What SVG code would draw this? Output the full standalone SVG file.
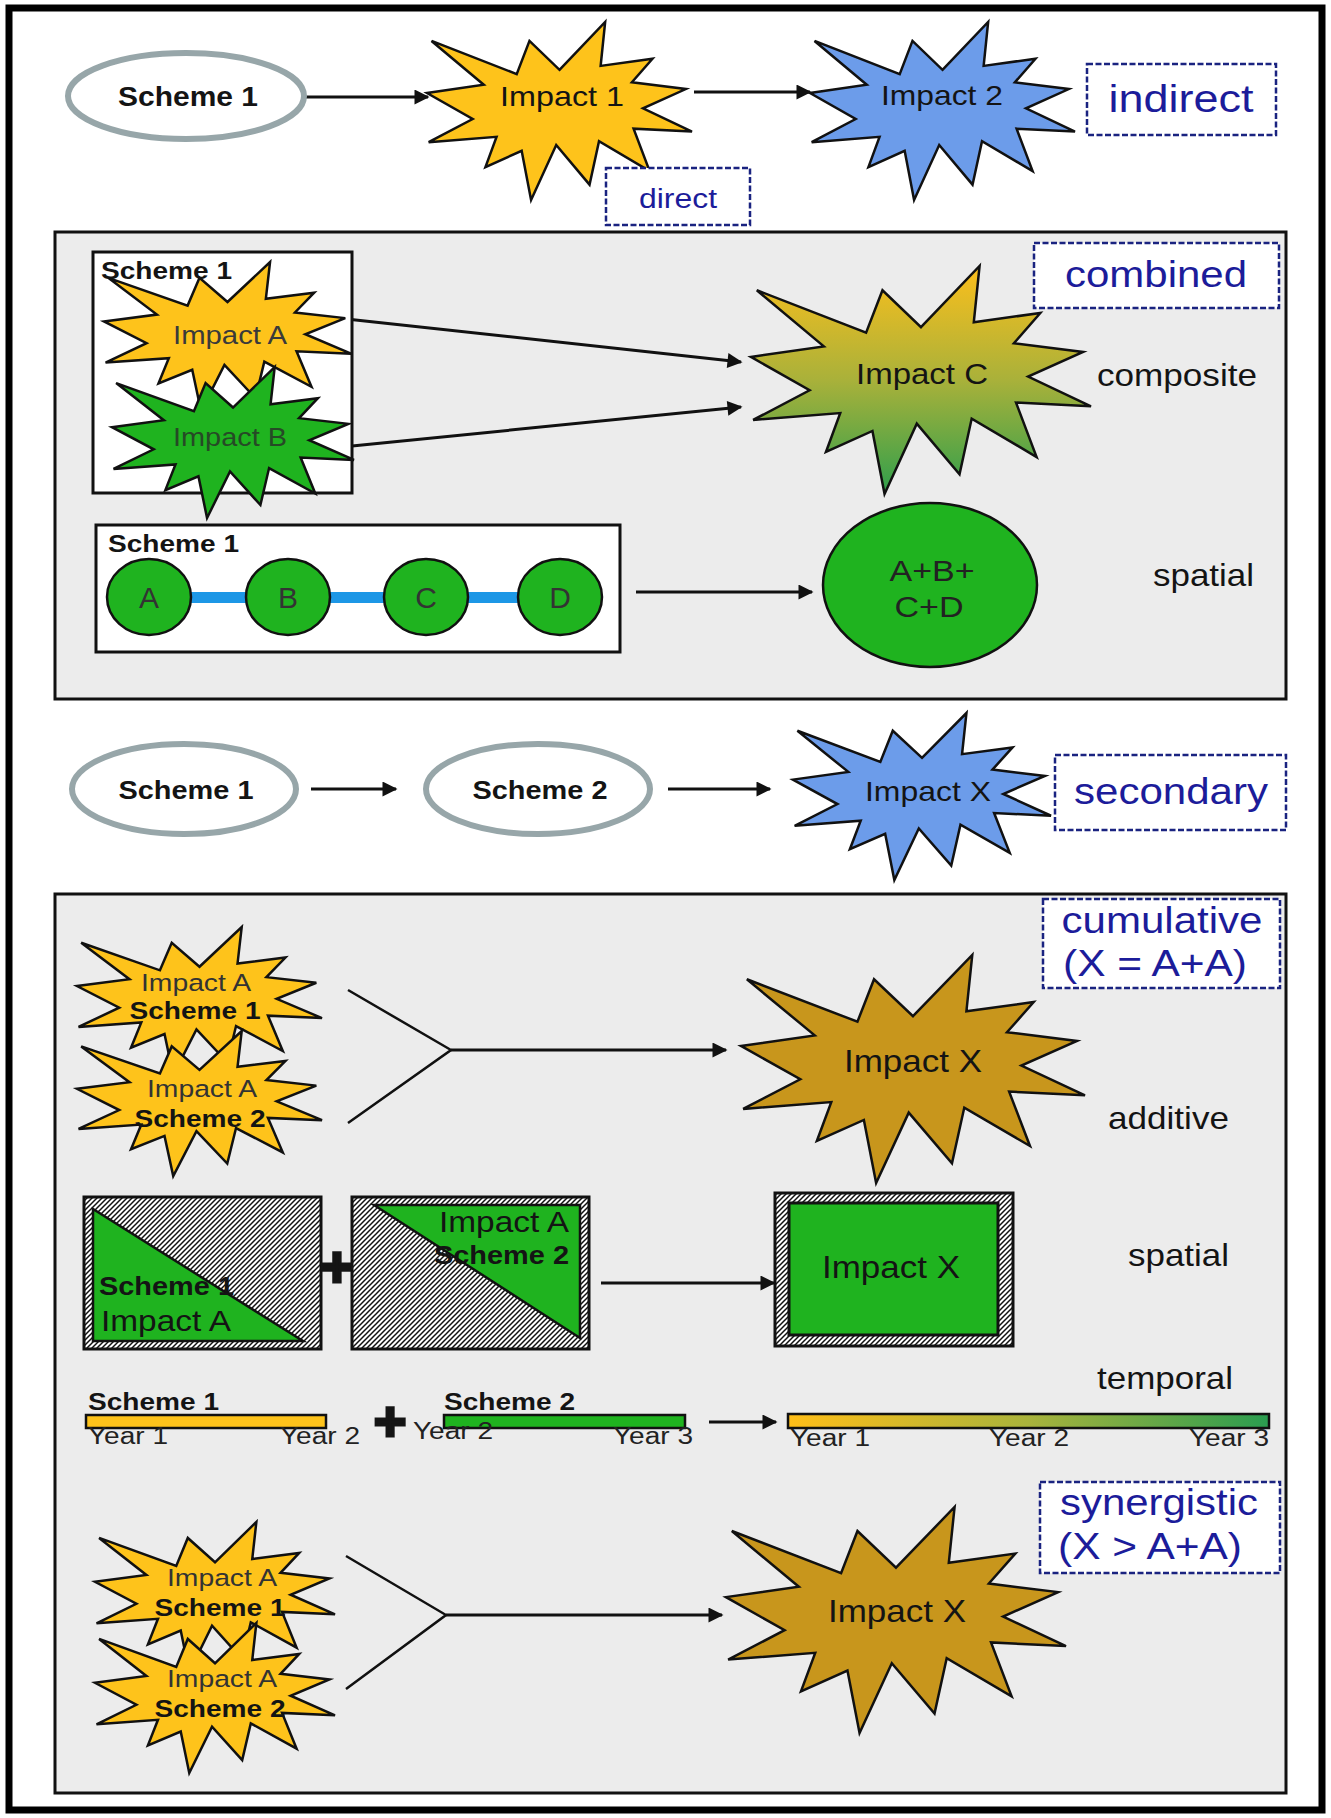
<svg xmlns="http://www.w3.org/2000/svg" width="1331" height="1818" viewBox="0 0 1331 1818">
<style>
text{font-family:"Liberation Sans",Arial,sans-serif;fill:#141414}
.b{font-weight:bold}
.lab{font-size:30.5px}
.blue{fill:#1c1c9a;font-size:37px}
.sec{fill:#ececec;stroke:#111;stroke-width:3}
.dbox{fill:#fff;stroke:#1a2380;stroke-width:2.5;stroke-dasharray:6 2.5}
.ell{fill:#fff;stroke:#97a6a9;stroke-width:6}
.star{stroke:#111;stroke-width:2.5}
.gold{fill:#fec31b}
.blu{fill:#6c9cea}
.grn{fill:#1fb31f}
.dg{fill:#c8961c}
.con line,.con polyline{stroke:#111;stroke-width:3;fill:none}
.arr{marker-end:url(#ah)}
.st{font-size:24.5px;fill:#333}
.sb{font-size:24.5px;font-weight:bold}
.yr{font-size:23.5px;fill:#222}
.bar{stroke:#111;stroke-width:2.5}
</style>
<defs>
<path id="seal" vector-effect="non-scaling-stroke" d="M500,268.5 L672.3,0 L655.3,246.5 L850.9,206.3 L773.2,338.7 L976.7,376.7 L815.1,485 L1000,615.3 L779.5,599.2 L840,837.7 L649.1,669.3 L613.3,913.8 L487.6,691.4 L392.8,1000 L357.2,723.5 L220.5,815.6 L262.4,645.2 L6.3,675.3 L172.3,545.1 L0,398.8 L214.2,352.6 L17.1,106.3 L338.5,292.6 L386.7,106.3 Z"/>
<marker id="ah" viewBox="0 0 10 10" refX="9" refY="5" markerUnits="userSpaceOnUse" markerWidth="19" markerHeight="15" orient="auto"><path d="M0,0 L10,5 L0,10 z" fill="#111"/></marker>
<linearGradient id="gC" x1="0" y1="0" x2="0" y2="1"><stop offset="0" stop-color="#fcbf1c"/><stop offset="0.5" stop-color="#a9b13a"/><stop offset="1" stop-color="#2f9f4c"/></linearGradient>
<linearGradient id="gT" x1="0" y1="0" x2="1" y2="0"><stop offset="0" stop-color="#ffbe18"/><stop offset="0.5" stop-color="#a9b33c"/><stop offset="1" stop-color="#2a9d50"/></linearGradient>
<pattern id="hatch" patternUnits="userSpaceOnUse" width="5" height="5"><rect width="5" height="5" fill="#fff"/><path d="M-1,1 L1,-1 M0,5 L5,0 M4,6 L6,4" stroke="#111" stroke-width="1.5"/></pattern>
</defs>

<rect x="9" y="8" width="1313" height="1802" fill="#fff" stroke="#000" stroke-width="7"/>

<!-- section backgrounds -->
<rect id="sec-combined" class="sec" x="55" y="232" width="1231" height="467"/>
<rect id="sec-cumulative" class="sec" x="55" y="894" width="1231" height="899"/>

<!-- connectors -->
<g id="connectors" class="con">
<line class="arr" x1="304" y1="97" x2="428" y2="97"/>
<line class="arr" x1="694" y1="92" x2="810" y2="92"/>
<line class="arr" x1="328" y1="317" x2="741" y2="362"/>
<line class="arr" x1="332" y1="448" x2="741" y2="407"/>
<line class="arr" x1="636" y1="592" x2="812" y2="592"/>
<line class="arr" x1="311" y1="789" x2="396" y2="789"/>
<line class="arr" x1="668" y1="789" x2="770" y2="789"/>
<polyline points="348,990 451,1050 348,1123" style="stroke-width:2.5"/>
<line class="arr" x1="451" y1="1050" x2="726" y2="1050"/>
<line class="arr" x1="601" y1="1283" x2="774" y2="1283"/>
<line class="arr" x1="709" y1="1422" x2="776" y2="1422"/>
<polyline points="346,1556 446,1615 346,1689" style="stroke-width:2.5"/>
<line class="arr" x1="446" y1="1615" x2="722" y2="1615"/>
</g>

<!-- top row -->
<g id="scheme1-top"><ellipse class="ell" cx="186" cy="96" rx="118" ry="43"/><text class="b" x="188" y="106" font-size="27" text-anchor="middle" textLength="140" lengthAdjust="spacingAndGlyphs">Scheme 1</text></g>
<g id="impact1"><use href="#seal" class="star gold" transform="translate(427,22) scale(0.265,0.178)"/><text x="562" y="106" font-size="28" text-anchor="middle" textLength="124" lengthAdjust="spacingAndGlyphs">Impact 1</text></g>
<g id="impact2"><use href="#seal" class="star blu" transform="translate(810,22) scale(0.265,0.178)"/><text x="942" y="105" font-size="28" text-anchor="middle" textLength="122" lengthAdjust="spacingAndGlyphs">Impact 2</text></g>
<g id="label-indirect"><rect class="dbox" x="1087" y="64" width="189" height="71"/><text class="blue" x="1181" y="112" style="font-size:38px" text-anchor="middle" textLength="145" lengthAdjust="spacingAndGlyphs">indirect</text></g>
<g id="label-direct"><rect class="dbox" x="606" y="168" width="144" height="57"/><text class="blue" x="678" y="208" style="font-size:27px" text-anchor="middle" textLength="78" lengthAdjust="spacingAndGlyphs">direct</text></g>

<!-- combined section -->
<g id="label-combined"><rect class="dbox" x="1034" y="243" width="245" height="65"/><text class="blue" x="1156" y="287" text-anchor="middle" textLength="182" lengthAdjust="spacingAndGlyphs">combined</text></g>
<g id="scheme1-composite"><rect x="93" y="252" width="259" height="241" fill="#fff" stroke="#111" stroke-width="3"/><text class="b" x="101" y="279" font-size="24.5" textLength="131" lengthAdjust="spacingAndGlyphs">Scheme 1</text></g>
<g id="impactA"><use href="#seal" class="star gold" transform="translate(104,262) scale(0.247,0.149)"/><text x="230" y="344" font-size="25" text-anchor="middle" style="fill:#3a3a3a" textLength="114" lengthAdjust="spacingAndGlyphs">Impact A</text></g>
<g id="impactB"><use href="#seal" class="star grn" transform="translate(112,367) scale(0.242,0.151)"/><text x="230" y="446" font-size="25" text-anchor="middle" style="fill:#264a26" textLength="114" lengthAdjust="spacingAndGlyphs">Impact B</text></g>
<g id="impactC"><use href="#seal" class="star" fill="url(#gC)" transform="translate(751,266) scale(0.340,0.228)"/><text x="922" y="384" font-size="29" text-anchor="middle" textLength="132" lengthAdjust="spacingAndGlyphs">Impact C</text></g>
<text id="label-composite" class="lab" x="1097" y="386" textLength="160" lengthAdjust="spacingAndGlyphs">composite</text>

<g id="scheme1-spatial">
<rect x="96" y="525" width="524" height="127" fill="#fff" stroke="#111" stroke-width="3"/>
<text class="b" x="108" y="552" font-size="24.5" textLength="131" lengthAdjust="spacingAndGlyphs">Scheme 1</text>
<rect x="185" y="592" width="70" height="11" fill="#1d97e6"/>
<rect x="325" y="592" width="70" height="11" fill="#1d97e6"/>
<rect x="462" y="592" width="70" height="11" fill="#1d97e6"/>
</g>
<g id="circleA"><ellipse cx="149" cy="597" rx="42" ry="38" fill="#1fb31f" stroke="#111" stroke-width="2.5"/><text x="149" y="608" font-size="30" text-anchor="middle" style="fill:#333">A</text></g>
<g id="circleB"><ellipse cx="288" cy="597" rx="42" ry="38" fill="#1fb31f" stroke="#111" stroke-width="2.5"/><text x="288" y="608" font-size="30" text-anchor="middle" style="fill:#333">B</text></g>
<g id="circleC"><ellipse cx="426" cy="597" rx="42" ry="38" fill="#1fb31f" stroke="#111" stroke-width="2.5"/><text x="426" y="608" font-size="30" text-anchor="middle" style="fill:#333">C</text></g>
<g id="circleD"><ellipse cx="560" cy="597" rx="42" ry="38" fill="#1fb31f" stroke="#111" stroke-width="2.5"/><text x="560" y="608" font-size="30" text-anchor="middle" style="fill:#333">D</text></g>
<g id="sumABCD"><ellipse cx="930" cy="585" rx="107" ry="82" fill="#1fb31f" stroke="#111" stroke-width="2.5"/><text x="932" y="581" font-size="30" text-anchor="middle" style="fill:#222" textLength="85" lengthAdjust="spacingAndGlyphs">A+B+</text><text x="929" y="617" font-size="30" text-anchor="middle" style="fill:#222" textLength="69" lengthAdjust="spacingAndGlyphs">C+D</text></g>
<text id="label-spatial1" class="lab" x="1153" y="586" textLength="101" lengthAdjust="spacingAndGlyphs">spatial</text>

<!-- secondary -->
<g id="scheme1-sec"><ellipse class="ell" cx="184" cy="789" rx="112" ry="45"/><text class="b" x="186" y="799" font-size="25" text-anchor="middle" textLength="135" lengthAdjust="spacingAndGlyphs">Scheme 1</text></g>
<g id="scheme2-sec"><ellipse class="ell" cx="538" cy="789" rx="112" ry="45"/><text class="b" x="540" y="799" font-size="25" text-anchor="middle" textLength="135" lengthAdjust="spacingAndGlyphs">Scheme 2</text></g>
<g id="impactX-sec"><use href="#seal" class="star blu" transform="translate(793,713) scale(0.258,0.167)"/><text x="928" y="801" font-size="28" text-anchor="middle" textLength="126" lengthAdjust="spacingAndGlyphs">Impact X</text></g>
<g id="label-secondary"><rect class="dbox" x="1055" y="755" width="231" height="75"/><text class="blue" x="1171" y="804" text-anchor="middle" textLength="194" lengthAdjust="spacingAndGlyphs">secondary</text></g>

<!-- cumulative -->
<g id="label-cumulative"><rect class="dbox" x="1043" y="899" width="237" height="89"/><text class="blue" x="1162" y="933" text-anchor="middle" textLength="201" lengthAdjust="spacingAndGlyphs">cumulative</text><text class="blue" x="1155" y="976" text-anchor="middle" textLength="184" lengthAdjust="spacingAndGlyphs">(X = A+A)</text></g>
<g id="cum-star1"><use href="#seal" class="star gold" transform="translate(77,927) scale(0.245,0.148)"/><text class="st" x="196" y="991" text-anchor="middle" textLength="110" lengthAdjust="spacingAndGlyphs">Impact A</text><text class="sb" x="195" y="1019" text-anchor="middle" textLength="131" lengthAdjust="spacingAndGlyphs">Scheme 1</text></g>
<g id="cum-star2"><use href="#seal" class="star gold" transform="translate(77,1031) scale(0.245,0.145)"/><text class="st" x="202" y="1097" text-anchor="middle" textLength="110" lengthAdjust="spacingAndGlyphs">Impact A</text><text class="sb" x="200" y="1127" text-anchor="middle" textLength="131" lengthAdjust="spacingAndGlyphs">Scheme 2</text></g>
<g id="cum-impactX"><use href="#seal" class="star dg" transform="translate(741,955) scale(0.344,0.228)"/><text x="913" y="1072" font-size="30.5" text-anchor="middle" textLength="138" lengthAdjust="spacingAndGlyphs">Impact X</text></g>
<text id="label-additive" class="lab" x="1108" y="1129" textLength="121" lengthAdjust="spacingAndGlyphs">additive</text>

<g id="spatial-rect1">
<rect x="84" y="1197" width="237" height="152" fill="url(#hatch)" stroke="#111" stroke-width="3"/>
<polygon points="93,1209 93,1341 303,1341" fill="#1fb31f" stroke="#111" stroke-width="2.5"/>
<text class="b" x="99" y="1295" font-size="25" textLength="135" lengthAdjust="spacingAndGlyphs">Scheme 1</text>
<text x="101" y="1331" font-size="29" textLength="130" lengthAdjust="spacingAndGlyphs">Impact A</text>
</g>
<text id="plus1" class="b" x="337" y="1287" font-size="58" text-anchor="middle" style="stroke:#141414;stroke-width:3">+</text>
<g id="spatial-rect2">
<rect x="352" y="1197" width="237" height="152" fill="url(#hatch)" stroke="#111" stroke-width="3"/>
<polygon points="374,1205 580,1205 580,1338" fill="#1fb31f" stroke="#111" stroke-width="2.5"/>
<text x="569" y="1232" font-size="29" text-anchor="end" textLength="130" lengthAdjust="spacingAndGlyphs">Impact A</text>
<text class="b" x="569" y="1264" font-size="25" text-anchor="end" textLength="135" lengthAdjust="spacingAndGlyphs">Scheme 2</text>
</g>
<g id="spatial-impactX">
<rect x="775" y="1193" width="238" height="153" fill="url(#hatch)" stroke="#111" stroke-width="3"/>
<rect x="789" y="1203" width="209" height="132" fill="#1fb31f" stroke="#111" stroke-width="3"/>
<text x="891" y="1278" font-size="30.5" text-anchor="middle" textLength="138" lengthAdjust="spacingAndGlyphs">Impact X</text>
</g>
<text id="label-spatial2" class="lab" x="1128" y="1266" textLength="101" lengthAdjust="spacingAndGlyphs">spatial</text>

<!-- temporal -->
<text id="label-temporal" class="lab" x="1097" y="1389" textLength="136" lengthAdjust="spacingAndGlyphs">temporal</text>
<g id="temporal-s1">
<text class="sb" x="88" y="1410" textLength="131" lengthAdjust="spacingAndGlyphs">Scheme 1</text>
<rect class="bar" x="86" y="1415" width="240" height="13" fill="#fec31b"/>
<text class="yr" x="88" y="1444" textLength="80" lengthAdjust="spacingAndGlyphs">Year 1</text>
<text class="yr" x="360" y="1444" text-anchor="end" textLength="80" lengthAdjust="spacingAndGlyphs">Year 2</text>
</g>
<text id="plus2" class="b" x="390" y="1440" font-size="56" text-anchor="middle" style="stroke:#141414;stroke-width:3">+</text>
<g id="temporal-s2">
<text class="sb" x="444" y="1410" textLength="131" lengthAdjust="spacingAndGlyphs">Scheme 2</text>
<rect class="bar" x="444" y="1415" width="241" height="13" fill="#1fb31f"/>
<text class="yr" x="413" y="1439" textLength="80" lengthAdjust="spacingAndGlyphs">Year 2</text>
<text class="yr" x="693" y="1444" text-anchor="end" textLength="80" lengthAdjust="spacingAndGlyphs">Year 3</text>
</g>
<g id="temporal-x">
<rect class="bar" x="788" y="1414" width="481" height="14" fill="url(#gT)"/>
<text class="yr" x="790" y="1446" textLength="80" lengthAdjust="spacingAndGlyphs">Year 1</text>
<text class="yr" x="989" y="1446" textLength="80" lengthAdjust="spacingAndGlyphs">Year 2</text>
<text class="yr" x="1269" y="1446" text-anchor="end" textLength="80" lengthAdjust="spacingAndGlyphs">Year 3</text>
</g>

<!-- synergistic -->
<g id="label-synergistic"><rect class="dbox" x="1040" y="1482" width="240" height="91"/><text class="blue" x="1159" y="1515" text-anchor="middle" textLength="198" lengthAdjust="spacingAndGlyphs">synergistic</text><text class="blue" x="1150" y="1559" text-anchor="middle" textLength="184" lengthAdjust="spacingAndGlyphs">(X &gt; A+A)</text></g>
<g id="syn-star1"><use href="#seal" class="star gold" transform="translate(95,1522) scale(0.240,0.150)"/><text class="st" x="222" y="1586" text-anchor="middle" textLength="110" lengthAdjust="spacingAndGlyphs">Impact A</text><text class="sb" x="220" y="1616" text-anchor="middle" textLength="131" lengthAdjust="spacingAndGlyphs">Scheme 1</text></g>
<g id="syn-star2"><use href="#seal" class="star gold" transform="translate(95,1623) scale(0.240,0.150)"/><text class="st" x="222" y="1687" text-anchor="middle" textLength="110" lengthAdjust="spacingAndGlyphs">Impact A</text><text class="sb" x="220" y="1717" text-anchor="middle" textLength="131" lengthAdjust="spacingAndGlyphs">Scheme 2</text></g>
<g id="syn-impactX"><use href="#seal" class="star dg" transform="translate(726,1507) scale(0.340,0.226)"/><text x="897" y="1622" font-size="30.5" text-anchor="middle" textLength="138" lengthAdjust="spacingAndGlyphs">Impact X</text></g>
</svg>
